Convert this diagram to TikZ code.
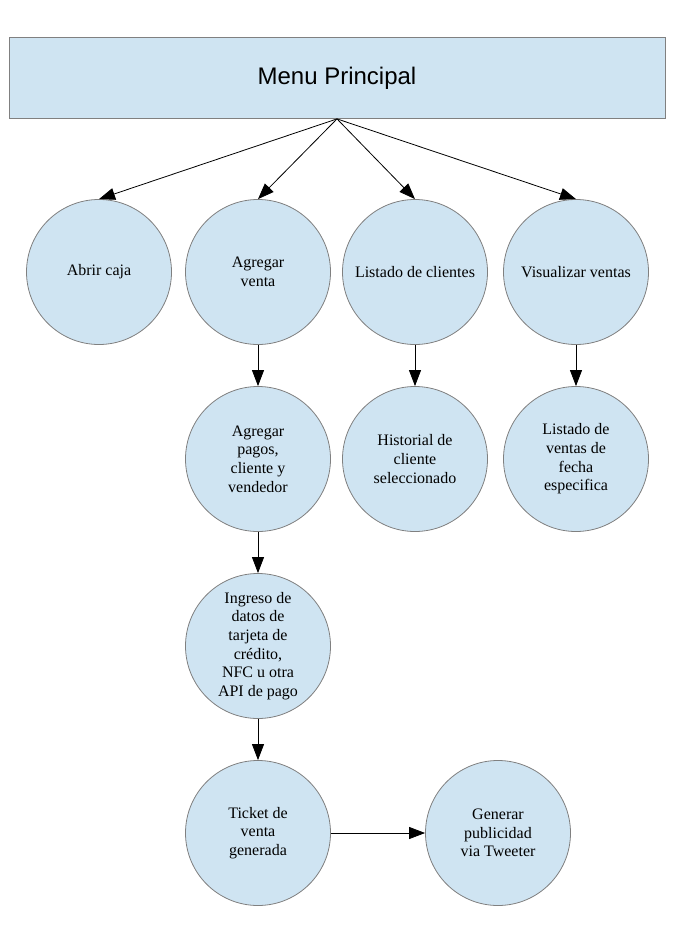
\documentclass[tikz,border=0pt]{standalone}
\usepackage{fontspec}
\setmainfont{Liberation Serif}
\newfontfamily\arialfont{Liberation Sans}
\usetikzlibrary{arrows.meta}
\definecolor{azul}{RGB}{207,228,242}
\definecolor{borde}{RGB}{128,128,128}
\tikzset{
    box/.style={draw=borde, fill=azul, rectangle, line width=0.6pt, minimum height=60.75pt, minimum width=492pt, font=\arialfont\fontsize{18}{22}\selectfont},
    proc/.style={draw=borde, fill=azul, circle, line width=0.6pt, minimum size=108.75pt, inner sep=0pt, align=center, font=\fontsize{12}{14}\selectfont},
    flecha/.style={-{Triangle[length=12pt,width=9pt]}, line width=0.6pt}
}

\begin{document}
\begin{tikzpicture}[x=0.75pt, y=-0.75pt]
    \useasboundingbox (0,0) rectangle (675,935);

    \node[box] (menu) at (337,78) {Menu Principal};

    \node[proc] (caja) at (99,272) {Abrir caja};
    \node[proc] (venta) at (258,272) {Agregar\\venta};
    \node[proc] (clientes) at (415,272) {Listado de clientes};
    \node[proc] (ventas) at (576,272) {Visualizar ventas};

    \node[proc] (pagos) at (258,459) {Agregar\\pagos,\\cliente y\\vendedor};
    \node[proc] (historial) at (415,459) {Historial de\\cliente\\seleccionado};
    \node[proc] (fecha) at (576,459) {Listado de\\ventas de\\fecha\\especifica};

    \node[proc] (ingreso) at (258,646) {Ingreso de\\datos de\\tarjeta de\\crédito,\\NFC u otra\\API de pago};

    \node[proc] (ticket) at (258,833) {Ticket de\\venta\\generada};
    \node[proc] (tweet) at (498,833) {Generar\\publicidad\\via Tweeter};

    \draw[flecha] (menu.south) -- (caja.north);
    \draw[flecha] (menu.south) -- (venta.north);
    \draw[flecha] (menu.south) -- (clientes.north);
    \draw[flecha] (menu.south) -- (ventas.north);
    \draw[flecha] (venta) -- (pagos);
    \draw[flecha] (clientes) -- (historial);
    \draw[flecha] (ventas) -- (fecha);
    \draw[flecha] (pagos) -- (ingreso);
    \draw[flecha] (ingreso) -- (ticket);
    \draw[flecha] (ticket) -- (tweet);
\end{tikzpicture}
\end{document}
